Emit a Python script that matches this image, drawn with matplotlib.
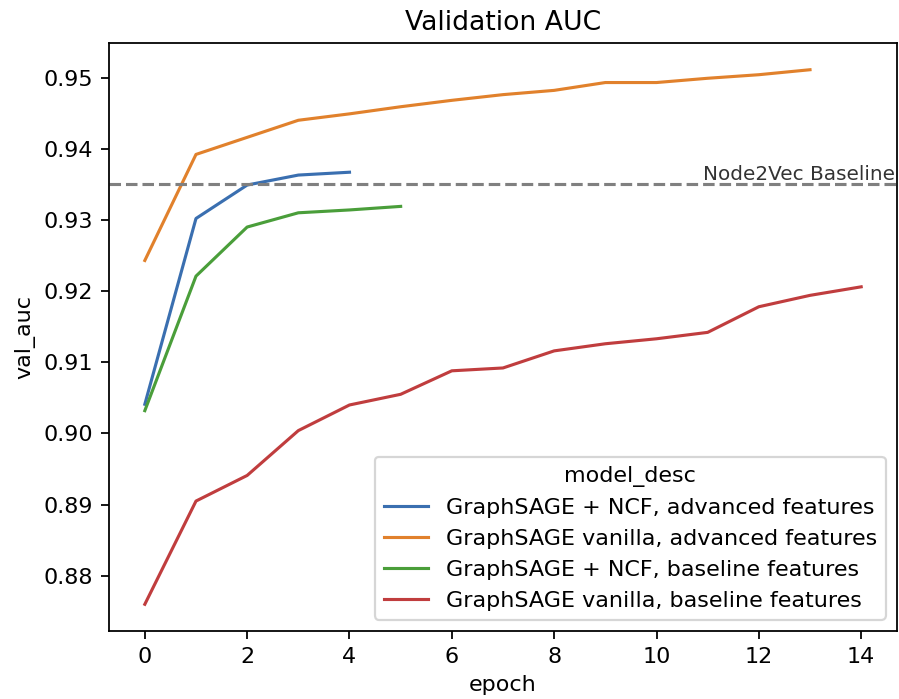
import numpy as np
import matplotlib
matplotlib.use("Agg")
import matplotlib.pyplot as plt

# values
labels = [
    "GraphSAGE + NCF, advanced features",
    "GraphSAGE vanilla, advanced features",
    "GraphSAGE + NCF, baseline features",
    "GraphSAGE vanilla, baseline features",
]
ncf_adv = [0.9041, 0.9302, 0.9349, 0.9363, 0.9367]
vanilla_adv = [0.9243, 0.9392, 0.9416, 0.9440, 0.9449, 0.9459, 0.9468, 0.9476,
               0.9482, 0.9493, 0.9493, 0.9499, 0.9504, 0.9511]
ncf_base = [0.9032, 0.9221, 0.9290, 0.9310, 0.9314, 0.9319]
vanilla_base = [0.8760, 0.8905, 0.8941, 0.9004, 0.9040, 0.9055, 0.9088, 0.9092,
                0.9116, 0.9126, 0.9133, 0.9142, 0.9178, 0.9194, 0.9206]
baseline_auc = 0.935

series = [ncf_adv, vanilla_adv, ncf_base, vanilla_base]
# tab10 desaturated (seaborn style)
colors = ["#3A6FB0", "#E1812C", "#4A9E3A", "#C03D3E"]

dpi = 160
fig = plt.figure(figsize=(899 / dpi, 699 / dpi), dpi=dpi)
ax = fig.add_axes([109 / 899, 68 / 699, 788 / 899, 588 / 699])

for vals, lab, col in zip(series, labels, colors):
    ax.plot(np.arange(len(vals)), vals, color=col, lw=1.4, label=lab)

ax.axhline(baseline_auc, color="gray", linestyle="--", lw=1.4)
# reference has this label running off the right edge; keep it just inside
ax.text(0.997, baseline_auc, "Node2Vec Baseline", va="bottom", ha="right",
        fontsize=9, color="#333333", transform=ax.get_yaxis_transform())

ax.set_title("Validation AUC", fontsize=12)
ax.set_xlabel("epoch", fontsize=10)
ax.set_ylabel("val_auc", fontsize=10)
ax.tick_params(labelsize=10)
ax.set_xticks(range(0, 15, 2))
ax.legend(title="model_desc", loc="lower right", fontsize=10, title_fontsize=10)

fig.savefig("out.png", dpi=dpi)
